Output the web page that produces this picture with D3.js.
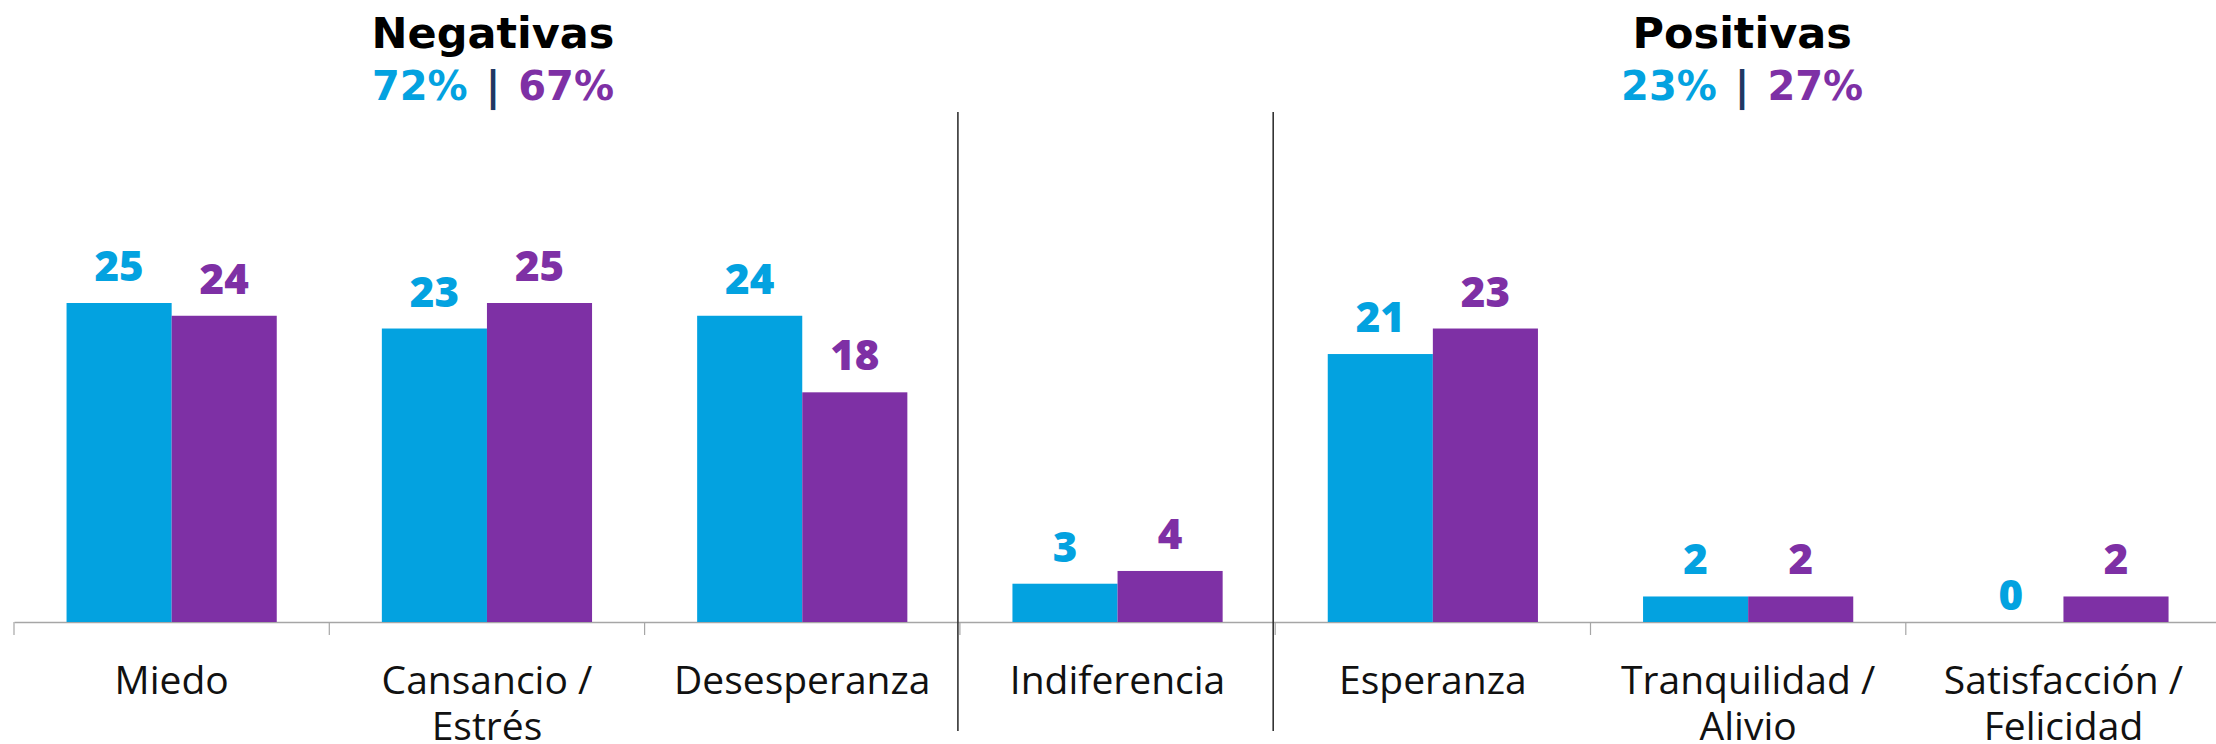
<!DOCTYPE html>
<html>
<head>
<meta charset="utf-8">
<script src="https://cdn.jsdelivr.net/npm/d3@7"></script>
<style>
  html, body { margin: 0; padding: 0; background: #fff; overflow: hidden; }
  svg { display: block; }
</style>
</head>
<body>
<svg id="chart" width="2216" height="744"></svg>
<script>
// Data
const categories = [
  ['Miedo'],
  ['Cansancio /', 'Estrés'],
  ['Desesperanza'],
  ['Indiferencia'],
  ['Esperanza'],
  ['Tranquilidad /', 'Alivio'],
  ['Satisfacción /', 'Felicidad']
];
const seriesNames = ['s1', 's2'];
const series1 = [25, 23, 24, 3, 21, 2, 0];
const series2 = [24, 25, 18, 4, 23, 2, 2];
const groupTitles = ['Negativas', 'Positivas'];
const groupShares1 = ['72%', '23%'];
const groupShares2 = ['67%', '27%'];

const colors = { s1: '#03a2e0', s2: '#7e30a5' };

const width = 2216, height = 744;
const baseline = 622;

const svg = d3.select('#chart');

const keys = categories.map(c => c.join(' '));

// Scales
const x = d3.scaleBand()
  .domain(keys)
  .range([14, 14 + 7 * 315.3])
  .padding(0);

const xInner = d3.scaleBand()
  .domain(seriesNames)
  .range([0, x.bandwidth()])
  .paddingInner(0)
  .paddingOuter(0.5);

const y = d3.scaleLinear()
  .domain([0, 25])
  .range([baseline, baseline - 319]);

// Axis
const axis = svg.append('g')
  .attr('transform', `translate(0,${baseline})`)
  .call(d3.axisBottom(x).tickSize(0).tickFormat(''));
axis.select('.domain').attr('stroke', '#a6a6a6').attr('stroke-width', 1.5);

// Boundary ticks
const bounds = keys.map(k => x(k)).concat([x.range()[1]]);
svg.append('g')
  .selectAll('line')
  .data(bounds)
  .join('line')
  .attr('x1', d => d)
  .attr('x2', d => d)
  .attr('y1', baseline)
  .attr('y2', baseline + 13)
  .attr('stroke', '#a6a6a6')
  .attr('stroke-width', 1.2);

// Bars
const rows = keys.map((k, i) => ({ key: k, s1: series1[i], s2: series2[i] }));

const groups = svg.append('g')
  .selectAll('g')
  .data(rows)
  .join('g')
  .attr('transform', d => `translate(${x(d.key)},0)`);

groups.selectAll('rect')
  .data(d => seriesNames.map(s => ({ s, v: d[s] })))
  .join('rect')
  .attr('x', d => xInner(d.s))
  .attr('width', xInner.bandwidth())
  .attr('y', d => y(d.v))
  .attr('height', d => baseline - y(d.v))
  .attr('fill', d => colors[d.s]);

// Value labels
groups.selectAll('text')
  .data(d => seriesNames.map(s => ({ s, v: d[s] })))
  .join('text')
  .attr('x', d => xInner(d.s) + xInner.bandwidth() / 2)
  .attr('y', d => d.v === 0 ? baseline - 12 : y(d.v) - 22)
  .attr('text-anchor', 'middle')
  .attr('font-family', '"Open Sans", sans-serif')
  .attr('font-weight', 800)
  .attr('font-size', '42px')
  .attr('fill', d => colors[d.s])
  .text(d => d.v);

// Category labels
const catLabels = svg.append('g')
  .selectAll('text')
  .data(categories.map((lines, i) => ({ key: keys[i], lines })))
  .join('text')
  .attr('x', d => x(d.key) + x.bandwidth() / 2)
  .attr('y', 694)
  .attr('text-anchor', 'middle')
  .attr('font-family', '"Open Sans", sans-serif')
  .attr('font-size', '39px')
  .attr('fill', '#111');

catLabels.selectAll('tspan')
  .data(d => d.lines.map((t, j) => ({ t, j, cx: x(d.key) + x.bandwidth() / 2 })))
  .join('tspan')
  .attr('x', d => d.cx)
  .attr('dy', d => d.j === 0 ? 0 : 46)
  .text(d => d.t);

// Divider lines between sections
const dividers = [keys[3], keys[4]];
svg.append('g')
  .selectAll('line')
  .data(dividers)
  .join('line')
  .attr('x1', d => x(d) - 2)
  .attr('x2', d => x(d) - 2)
  .attr('y1', 112)
  .attr('y2', 731)
  .attr('stroke', '#333')
  .attr('stroke-width', 1.6);

// Section headers
const sections = [
  { title: groupTitles[0], a: groupShares1[0], b: groupShares2[0], cx: (x(keys[0]) + x(keys[2]) + x.bandwidth()) / 2 + 6 },
  { title: groupTitles[1], a: groupShares1[1], b: groupShares2[1], cx: (x(keys[4]) + x(keys[6]) + x.bandwidth()) / 2 - 6 }
];

const head = svg.append('g')
  .selectAll('g')
  .data(sections)
  .join('g');

head.append('text')
  .attr('x', d => d.cx)
  .attr('y', 48)
  .attr('text-anchor', 'middle')
  .attr('font-family', '"DejaVu Sans", sans-serif')
  .attr('font-weight', 700)
  .attr('font-size', '43px')
  .attr('fill', '#000')
  .text(d => d.title);

const pct = head.append('text')
  .attr('x', d => d.cx)
  .attr('y', 100)
  .attr('text-anchor', 'middle')
  .attr('font-family', '"DejaVu Sans", sans-serif')
  .attr('font-weight', 700)
  .attr('font-size', '40px');

pct.append('tspan').attr('fill', colors.s1).text(d => d.a);
pct.append('tspan').attr('dx', 18).attr('fill', '#1f3864').text('|');
pct.append('tspan').attr('dx', 18).attr('fill', colors.s2).text(d => d.b);
</script>
</body>
</html>
